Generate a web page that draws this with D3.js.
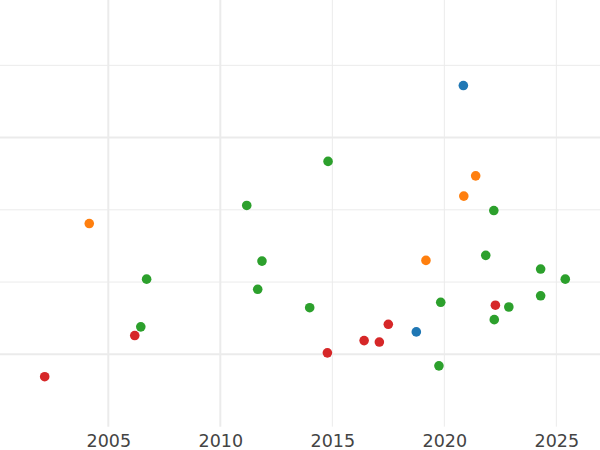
<!DOCTYPE html>
<html>
<head>
<meta charset="utf-8">
<script src="https://cdn.jsdelivr.net/npm/d3@7"></script>
<style>
  html, body { margin: 0; padding: 0; background: #ffffff; }
  svg { display: block; }
</style>
</head>
<body>
<div id="chart"></div>
<script>
// ---- data ----
const xTicks = [2005, 2010, 2015, 2020, 2025];
const yTicks = [0, 1, 2, 3, 4];
const seriesNames = ["blue", "orange", "green", "red"];
const seriesColors = ["#1f77b4", "#ff7f0e", "#2ca02c", "#d62728"];

const blueX = [2020.85, 2018.75];
const blueY = [3.72, 0.31];

const orangeX = [2004.15, 2021.40, 2020.87, 2019.18];
const orangeY = [1.81, 2.47, 2.19, 1.30];

const greenX = [2014.81, 2011.18, 2011.86, 2006.71, 2011.67, 2013.99, 2006.45, 2019.84,
                2022.21, 2021.85, 2024.30, 2025.40, 2024.30, 2022.88, 2022.23, 2019.76];
const greenY = [2.67, 2.06, 1.29, 1.04, 0.90, 0.645, 0.38, 0.72,
                1.99, 1.37, 1.18, 1.04, 0.81, 0.655, 0.48, -0.16];

const redX = [2002.16, 2006.18, 2014.78, 2016.42, 2017.10, 2017.50, 2022.28];
const redY = [-0.31, 0.26, 0.02, 0.19, 0.17, 0.415, 0.68];

// ---- layout ----
const W = 600, H = 450;
const plotTop = 0, plotBottom = 426.7, plotLeft = 0, plotRight = 600;

const svg = d3.select("#chart").append("svg")
  .attr("width", W).attr("height", H);

const x = d3.scaleLinear().domain([2000.165, 2026.95]).range([plotLeft, plotRight]);
const y = d3.scaleLinear().domain([-1.002, 4.904]).range([plotBottom, plotTop]);

// grid
const grid = svg.append("g");
grid.selectAll("line.v").data(xTicks).enter().append("line")
  .attr("class", "v")
  .attr("x1", d => x(d)).attr("x2", d => x(d))
  .attr("y1", plotTop).attr("y2", plotBottom)
  .attr("stroke", "#ebebeb").attr("stroke-width", d => d <= 2010 ? 2 : 1);
grid.selectAll("line.h").data(yTicks).enter().append("line")
  .attr("class", "h")
  .attr("x1", plotLeft).attr("x2", plotRight)
  .attr("y1", d => y(d)).attr("y2", d => y(d))
  .attr("stroke", "#ebebeb").attr("stroke-width", d => (d % 3 === 0) ? 2 : 1);

// x axis labels
const xAxis = d3.axisBottom(x).tickValues(xTicks).tickFormat(d3.format("d")).tickSize(0).tickPadding(8);
const gx = svg.append("g").attr("transform", `translate(0,${plotBottom})`).call(xAxis);
gx.select(".domain").remove();
gx.selectAll("text")
  .attr("font-family", "DejaVu Sans, sans-serif")
  .attr("font-size", 17.5)
  .attr("fill", "#444444");

// points
const series = [
  { name: seriesNames[0], xs: blueX, ys: blueY, color: seriesColors[0] },
  { name: seriesNames[1], xs: orangeX, ys: orangeY, color: seriesColors[1] },
  { name: seriesNames[2], xs: greenX, ys: greenY, color: seriesColors[2] },
  { name: seriesNames[3], xs: redX, ys: redY, color: seriesColors[3] }
];

const pts = svg.append("g");
series.forEach(s => {
  const data = s.xs.map((v, i) => ({ x: v, y: s.ys[i] }));
  pts.selectAll(null).data(data).enter().append("circle")
    .attr("cx", d => x(d.x))
    .attr("cy", d => y(d.y))
    .attr("r", 4.8)
    .attr("fill", s.color);
});
</script>
</body>
</html>
